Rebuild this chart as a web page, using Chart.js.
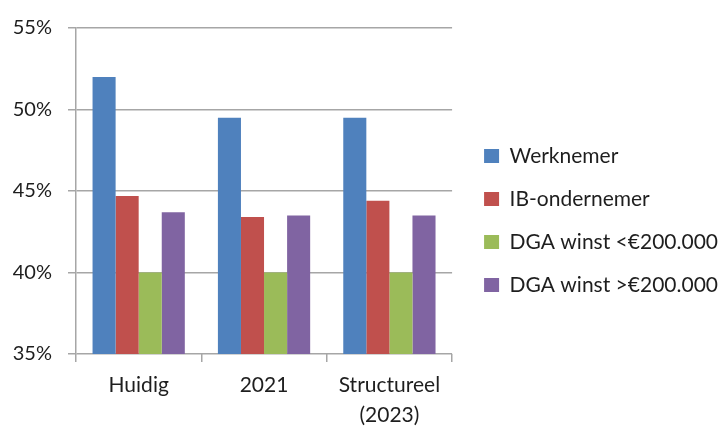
<!DOCTYPE html>
<html>
<head>
<meta charset="utf-8">
<script src="https://cdn.jsdelivr.net/npm/chart.js@4"></script>
<style>
  html, body { margin: 0; padding: 0; background: #fff; overflow: hidden; }
  #wrap { width: 718px; height: 426px; }
</style>
</head>
<body>
<div id="wrap"><canvas id="chart" width="718" height="426"></canvas></div>
<script>
// Data
const categories = ['Huidig', '2021', ['Structureel', '(2023)']];
const werknemer = [52.0, 49.5, 49.5];
const ibOndernemer = [44.7, 43.4, 44.4];
const dgaLaag = [40.0, 40.0, 40.0];
const dgaHoog = [43.7, 43.5, 43.5];
const seriesNames = ['Werknemer', 'IB-ondernemer', 'DGA winst <€200.000', 'DGA winst >€200.000'];
const colors = ['#4F81BD', '#C0504D', '#9BBB59', '#8064A2'];

const FONT = 'Lato, "Open Sans", sans-serif';
const textColor = '#1e1e1e';
const gridColor = '#a6a6a6';

const datasets = [werknemer, ibOndernemer, dgaLaag, dgaHoog].map((vals, i) => ({
  label: seriesNames[i],
  data: vals,
  backgroundColor: colors[i],
  borderWidth: 0,
  barPercentage: 1,
  categoryPercentage: 0.736
}));

// the layout caps a side legend at a fraction of the width; let it take what it needs
// (and drop the trailing gap so the text runs to the edge like the original)
const legendWidthFix = {
  id: 'legendWidthFix',
  afterInit(chart) {
    const legend = chart.legend;
    const fit = legend.fit;
    legend.fit = function () {
      this.maxWidth = 1000;
      fit.call(this);
      this.width -= 10;
    };
  },
  afterLayout(chart) {
    // nudge the legend items up a little
    chart.legend.top -= 4;
    chart.legend.bottom -= 4;
  }
};

new Chart(document.getElementById('chart').getContext('2d'), {
  type: 'bar',
  data: { labels: categories, datasets: datasets },
  plugins: [legendWidthFix],
  options: {
    responsive: false,
    animation: false,
    layout: { padding: { top: 23, right: 0, bottom: 0, left: 0 } },
    plugins: {
      tooltip: { enabled: false },
      legend: {
        position: 'right',
        align: 'center',
        labels: {
          boxWidth: 15,
          boxHeight: 14,
          padding: 22,
          color: textColor,
          font: { family: FONT, size: 21 }
        }
      }
    },
    scales: {
      x: {
        grid: { display: true, drawOnChartArea: false, drawTicks: true, tickLength: 8, color: gridColor, lineWidth: 1.5 },
        border: { display: false },
        ticks: {
          color: textColor,
          padding: 8,
          maxRotation: 0,
          font: { family: FONT, size: 21, lineHeight: 1.45 }
        },
        afterFit: (scale) => { scale.height = 72; }
      },
      y: {
        min: 35,
        max: 55,
        grid: { color: gridColor, lineWidth: 1.5, tickLength: 8 },
        border: { display: true, color: gridColor, width: 1.5 },
        ticks: {
          stepSize: 5,
          color: textColor,
          padding: 16,
          font: { family: FONT, size: 20 },
          callback: (v) => v + '%'
        },
        afterFit: (scale) => { scale.width = 76; }
      },
      // spacer between plot area and legend
      gap: {
        type: 'linear',
        position: 'right',
        display: true,
        grid: { display: false },
        border: { display: false },
        ticks: { display: false },
        afterFit: (scale) => { scale.width = 10; }
      }
    }
  }
});
</script>
</body>
</html>
